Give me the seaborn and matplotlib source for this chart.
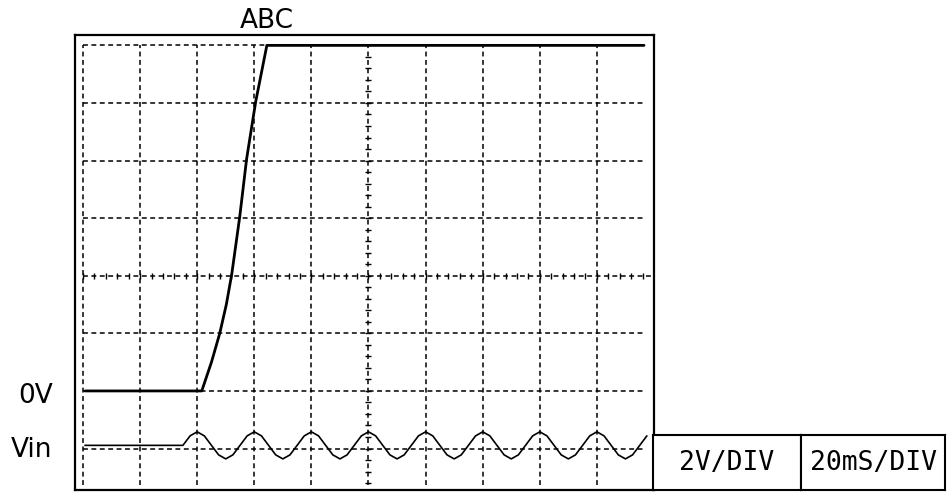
import numpy as np
import pandas as pd
import matplotlib
matplotlib.use("Agg")
import matplotlib.pyplot as plt
import seaborn as sns

# Output channel: time in ms, level in volts
out_t = [0.7, 41.6, 45.0, 47.9, 50.2, 52.1, 54.9, 57.3, 60.5, 64.4, 196.5]
out_v = [0.0, 0.0, 1.0, 2.0, 3.0, 4.05, 6.05, 8.05, 10.05, 12.0, 12.0]

# Input channel (Vin), sampled every 2.5 ms once the sine starts
vin_t = [0.7,
         35.0, 37.5, 40.0, 42.5, 45.0, 47.5, 50.0, 52.5,
         55.0, 57.5, 60.0, 62.5, 65.0, 67.5, 70.0, 72.5,
         75.0, 77.5, 80.0, 82.5, 85.0, 87.5, 90.0, 92.5,
         95.0, 97.5, 100.0, 102.5, 105.0, 107.5, 110.0, 112.5,
         115.0, 117.5, 120.0, 122.5, 125.0, 127.5, 130.0, 132.5,
         135.0, 137.5, 140.0, 142.5, 145.0, 147.5, 150.0, 152.5,
         155.0, 157.5, 160.0, 162.5, 165.0, 167.5, 170.0, 172.5,
         175.0, 177.5, 180.0, 182.5, 185.0, 187.5, 190.0, 192.5,
         195.0, 197.5]
vin_v = [-1.89,
         -1.89, -1.56, -1.42, -1.56, -1.89, -2.22, -2.36, -2.22,
         -1.89, -1.56, -1.42, -1.56, -1.89, -2.22, -2.36, -2.22,
         -1.89, -1.56, -1.42, -1.56, -1.89, -2.22, -2.36, -2.22,
         -1.89, -1.56, -1.42, -1.56, -1.89, -2.22, -2.36, -2.22,
         -1.89, -1.56, -1.42, -1.56, -1.89, -2.22, -2.36, -2.22,
         -1.89, -1.56, -1.42, -1.56, -1.89, -2.22, -2.36, -2.22,
         -1.89, -1.56, -1.42, -1.56, -1.89, -2.22, -2.36, -2.22,
         -1.89, -1.56, -1.42, -1.56, -1.89, -2.22, -2.36, -2.22,
         -1.89, -1.56]

# Graticule: 20 ms/div horizontally, 2 V/div vertically
grid_t = [0, 20, 40, 60, 80, 120, 140, 160, 180]
grid_v = [-2, 0, 2, 6, 8, 10, 12]
center_t = 100
center_v = 4

trace_label = "ABC"
level_labels = ["0V", "Vin"]
scale_labels = ["2V/DIV", "20mS/DIV"]

sns.set_theme(style="white")
plt.rcParams["font.family"] = ["DejaVu Sans"]
plt.rcParams["text.color"] = "black"

W, H = 950, 493
fig = plt.figure(figsize=(W / 100, H / 100), dpi=100)
fig.patch.set_facecolor("white")

ax = fig.add_axes([75 / W, (H - 490) / H, (654 - 75) / W, (490 - 35) / H])
ax.set_xlim(-2.8, 200)
ax.set_ylim(-3.44, 12.36)
ax.set_facecolor("white")

dash = (0, (3.2, 2.3))
ax.vlines(grid_t, -3.26, 12.0, colors="black", linestyles=dash, lw=1.1)
ax.hlines(grid_v, 0, 197.2, colors="black", linestyles=dash, lw=1.1)

# Centre cross with minor ticks every 1/5 division
ax.hlines(center_v, 0, 200, colors="black", linestyles=dash, lw=1.1)
ax.vlines(center_t, -3.26, 12.0, colors="black", linestyles=dash, lw=1.1)
minor_t = np.arange(0, 200.01, 4)
minor_v = np.arange(-3.2, 12.01, 0.4)
ax.plot(minor_t, np.full_like(minor_t, center_v), ls="none", marker="|",
        ms=5, mew=1.0, color="black")
ax.plot(np.full_like(minor_v, center_t), minor_v, ls="none", marker="_",
        ms=5, mew=1.0, color="black")

out_df = pd.DataFrame({"t": out_t, "v": out_v})
vin_df = pd.DataFrame({"t": vin_t, "v": vin_v})
sns.lineplot(data=out_df, x="t", y="v", ax=ax, color="black", lw=2.0,
             estimator=None, sort=False)
sns.lineplot(data=vin_df, x="t", y="v", ax=ax, color="black", lw=1.2,
             estimator=None, sort=False)

ax.text(out_t[9], 12.6, trace_label, ha="center", va="baseline",
        fontsize=19, color="black", clip_on=False)
ax.text(-10.5, -0.42, level_labels[0], ha="right", va="baseline",
        fontsize=19, color="black", clip_on=False)
ax.text(-10.8, -2.29, level_labels[1], ha="right", va="baseline",
        fontsize=19, color="black", clip_on=False)

ax.set_xticks([])
ax.set_yticks([])
ax.set_xlabel("")
ax.set_ylabel("")
for s in ax.spines.values():
    s.set_visible(True)
    s.set_color("black")
    s.set_linewidth(1.6)

box_edges = [(653, 801), (801, 945)]
for (x0, x1), label in zip(box_edges, scale_labels):
    bax = fig.add_axes([x0 / W, (H - 490) / H, (x1 - x0) / W, 55 / H])
    bax.set_xticks([])
    bax.set_yticks([])
    bax.set_facecolor("white")
    for s in bax.spines.values():
        s.set_visible(True)
        s.set_color("black")
        s.set_linewidth(1.5)
    bax.text(0.5, 0.5, label, ha="center", va="center", transform=bax.transAxes,
             fontfamily="DejaVu Sans Mono", fontsize=19, color="black")

fig.savefig("out.png", dpi=100, facecolor="white")
